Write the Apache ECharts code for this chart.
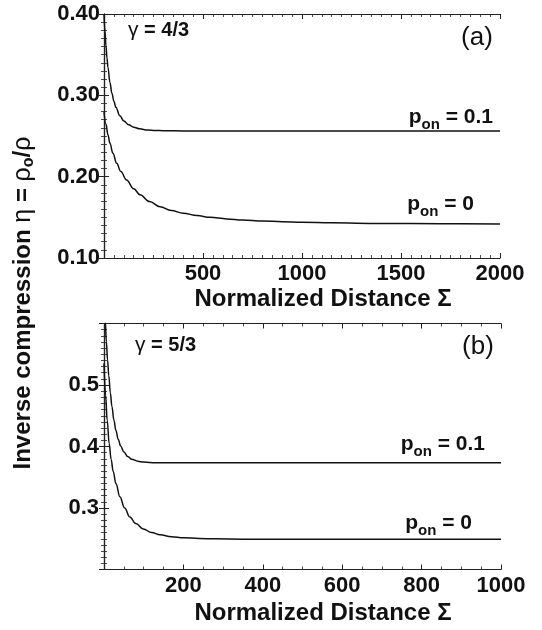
<!DOCTYPE html>
<html><head><meta charset="utf-8">
<script src="https://cdn.jsdelivr.net/npm/echarts@6/dist/echarts.min.js"></script>
<style>html,body{margin:0;padding:0;background:#fff}#c{width:542px;height:630px}</style>
</head><body><div id="c"></div>
<script>
// Panel (a): gamma = 4/3
const sigmaA1 = [0, 5, 10, 15, 20, 30, 40, 50, 60, 80, 100, 125, 150, 180, 220, 260, 300, 400, 1000, 2000];
const etaA1   = [0.400, 0.3787, 0.3606, 0.346, 0.3343, 0.3158, 0.3026, 0.2927, 0.2852, 0.2749, 0.2685, 0.2637, 0.2608, 0.2588, 0.2574, 0.2568, 0.2565, 0.2562, 0.2562, 0.2562];
const sigmaA0 = [0, 10, 20, 30, 45, 64, 85, 114, 150, 182, 230, 283, 340, 400, 470, 535, 620, 700, 800, 900, 1000, 1150, 1400, 1700, 2000];
const etaA0   = [0.280, 0.2643, 0.2515, 0.241, 0.2287, 0.2165, 0.2064, 0.196, 0.1852, 0.1777, 0.1694, 0.163, 0.1584, 0.1551, 0.1522, 0.1501, 0.1481, 0.1468, 0.1455, 0.1446, 0.1439, 0.1432, 0.1425, 0.1421, 0.1419];
// Panel (b): gamma = 5/3
const sigmaB1 = [0, 3, 6, 9, 12, 16, 20, 25, 30, 36, 42, 50, 60, 70, 85, 100, 130, 200, 1000];
const etaB1   = [0.647, 0.6057, 0.5705, 0.5405, 0.5151, 0.4871, 0.4647, 0.4428, 0.4261, 0.4113, 0.4007, 0.391, 0.3836, 0.3793, 0.3761, 0.3746, 0.3737, 0.3735, 0.3735];
const sigmaB0 = [0, 4, 8, 13, 18, 23, 30, 40, 52, 65, 80, 99, 120, 141, 170, 200, 240, 280, 350, 500, 1000];
const etaB0   = [0.5355, 0.4836, 0.443, 0.4047, 0.379, 0.3598, 0.3397, 0.3183, 0.2998, 0.2855, 0.2747, 0.2659, 0.2601, 0.2565, 0.2534, 0.2517, 0.2505, 0.2498, 0.2493, 0.2491, 0.249];

const xTitle = 'Normalized Distance Σ';
const panelTags = ['(a)', '(b)'];
const gammaTexts = ['4/3', '5/3'];
const pLabels = ['0.1', '0'];

const FONT = '"Liberation Sans", Arial, Helvetica, sans-serif';
const INK = '#111';
const AX = '#222';

const pairs = (xs, ys) => xs.map((x, i) => [x, ys[i]]);

function axisCommon(extra) {
  return Object.assign({
    type: 'value',
    axisLine: { show: true, lineStyle: { color: AX, width: 1.2 } },
    axisTick: { show: true, inside: true, length: 5, lineStyle: { color: AX, width: 1 } },
    minorTick: { show: true, length: 3, lineStyle: { color: AX, width: 0.8 } },
    splitLine: { show: false },
    minorSplitLine: { show: false },
    axisLabel: { show: true, fontFamily: FONT, fontWeight: 'bold', fontSize: 22, color: INK, margin: 4 }
  }, extra);
}
function hideLabels(o) { o.axisLabel = { show: false }; return o; }
const minor = (n) => ({ show: true, splitNumber: n, length: 3, lineStyle: { color: AX, width: 0.8 } });
const lbl = (fmt, m) => ({ show: true, fontFamily: FONT, fontWeight: 'bold', fontSize: 22, color: INK, margin: m, formatter: fmt });

const xAxes = [
  axisCommon({ gridIndex: 0, position: 'bottom', min: 0, max: 2000, interval: 500, minorTick: minor(10),
    axisLabel: lbl(v => v === 0 ? '' : String(v), 5) }),
  hideLabels(axisCommon({ gridIndex: 0, position: 'top', min: 0, max: 2000, interval: 500, minorTick: minor(10) })),
  axisCommon({ gridIndex: 1, position: 'bottom', min: 0, max: 1000, interval: 200, minorTick: minor(4),
    axisLabel: lbl(v => v === 0 ? '' : String(v), 5) }),
  hideLabels(axisCommon({ gridIndex: 1, position: 'top', min: 0, max: 1000, interval: 200, minorTick: minor(4) }))
];
const yAxes = [
  axisCommon({ gridIndex: 0, position: 'left', min: 0.1, max: 0.4, interval: 0.1, minorTick: minor(10),
    axisLabel: lbl(v => v.toFixed(2), 4) }),
  hideLabels(axisCommon({ gridIndex: 0, position: 'right', min: 0.1, max: 0.4, interval: 0.1, minorTick: minor(10) })),
  axisCommon({ gridIndex: 1, position: 'left', min: 0.2, max: 0.6, interval: 0.1, minorTick: minor(10),
    axisLabel: lbl(v => (v > 0.25 && v < 0.55) ? v.toFixed(1) : '', 5) }),
  hideLabels(axisCommon({ gridIndex: 1, position: 'right', min: 0.2, max: 0.6, interval: 0.1, minorTick: minor(10) }))
];

function curve(xs, ys, xi, yi) {
  return { type: 'line', xAxisIndex: xi, yAxisIndex: yi, data: pairs(xs, ys),
    showSymbol: false, symbol: 'none', smooth: 0.4, smoothMonotone: 'x', clip: true,
    lineStyle: { color: INK, width: 1.5 }, silent: true, animation: false };
}

const tokB = (size) => ({ fontFamily: FONT, fontWeight: 'bold', fontSize: size, fill: INK, color: INK, verticalAlign: 'top' });
const tokN = (size) => ({ fontFamily: FONT, fontWeight: 'normal', fontSize: size, fill: INK, color: INK, verticalAlign: 'top' });
const tokS = (size, pad) => ({ fontFamily: FONT, fontWeight: 'bold', fontSize: size, fill: INK, color: INK, verticalAlign: 'top', padding: [pad, 0, 0, 0] });

function gtext(x, y, text, rich, align, valign, rotation) {
  return { type: 'text', x: x, y: y, rotation: rotation || 0, silent: true,
    style: { text: text, rich: rich, fill: INK, font: 'bold 20px ' + FONT,
      align: align, verticalAlign: valign, textAlign: align, textVerticalAlign: valign } };
}
const pRich = { p: tokB(21), s: tokS(15, 10) };

const graphics = [
  gtext(128, 30.5, '{g|γ}{b| = ' + gammaTexts[0] + '}', { g: tokN(21), b: tokB(20) }, 'left', 'middle'),
  gtext(135, 345.5, '{g|γ}{b| = ' + gammaTexts[1] + '}', { g: tokN(21), b: tokB(20) }, 'left', 'middle'),
  gtext(477, 37.5, '{a|' + panelTags[0] + '}', { a: tokN(26) }, 'center', 'middle'),
  gtext(478, 346.5, '{a|' + panelTags[1] + '}', { a: tokN(26) }, 'center', 'middle'),
  gtext(493, 107, '{p|p}{s|on}{p| = ' + pLabels[0] + '}', pRich, 'right', 'top'),
  gtext(474, 194, '{p|p}{s|on}{p| = ' + pLabels[1] + '}', pRich, 'right', 'top'),
  gtext(485, 434, '{p|p}{s|on}{p| = ' + pLabels[0] + '}', pRich, 'right', 'top'),
  gtext(472, 513, '{p|p}{s|on}{p| = ' + pLabels[1] + '}', pRich, 'right', 'top'),
  gtext(323, 299, '{t|' + xTitle + '}', { t: tokB(24) }, 'center', 'middle'),
  gtext(323, 613, '{t|' + xTitle + '}', { t: tokB(24) }, 'center', 'middle'),
  gtext(24, 303, '{b|Inverse compression }{g|η}{b| = }{g|ρ}{s|o}{b|/}{g|ρ}',
    { b: tokB(24), g: tokN(25), s: tokS(16, 10) }, 'center', 'middle', Math.PI / 2)
];

const chart = echarts.init(document.getElementById('c'), null, { renderer: 'canvas' });
chart.setOption({
  animation: false,
  backgroundColor: '#fff',
  grid: [
    { left: 104, top: 14, width: 396, height: 244, containLabel: false },
    { left: 104, top: 323.5, width: 397, height: 246, containLabel: false }
  ],
  xAxis: xAxes,
  yAxis: yAxes,
  series: [
    curve(sigmaA1, etaA1, 0, 0),
    curve(sigmaA0, etaA0, 0, 0),
    curve(sigmaB1, etaB1, 2, 2),
    curve(sigmaB0, etaB0, 2, 2)
  ],
  graphic: graphics
});
</script></body></html>
